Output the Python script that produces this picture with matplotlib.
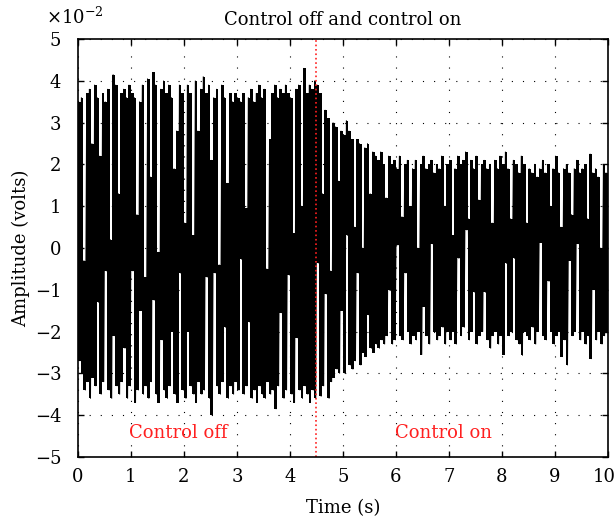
import numpy as np
import matplotlib
matplotlib.use("Agg")
import matplotlib.pyplot as plt
from matplotlib.transforms import ScaledTranslation

plt.rcParams['font.family'] = ['DejaVu Serif']
plt.rcParams['mathtext.fontset'] = 'dejavuserif'

# peak values, one pair every 0.05 s, in units of 1e-2 V
upper = [
    3.5, 3.6, -0.3, 3.7, 3.8, 2.5, 3.9, 3.6, 2.2, 3.7, 3.5, 3.8, 0.2, 4.15, 3.9, 1.3, 3.7, 3.8, 3.6, 3.9,
    3.7, 3.6, 0.8, 3.5, 3.9, -0.7, 4.05, 1.7, 4.2, 3.9, -0.1, 3.8, 4.0, 3.7, 3.9, 3.6, 1.9, 2.8, 3.9, 3.7,
    0.6, 3.9, 3.7, 0.3, 4.0, 2.8, 3.8, 4.1, 3.7, 3.9, 2.1, 3.6, 3.8, -0.4, 3.9, 3.6, 1.55, 3.7, 3.5, 3.7,
    3.6, 3.5, 3.7, 0.95, 3.6, 3.8, 3.5, 3.7, 3.9, 3.6, 3.8, -0.5, 2.6, 3.7, 3.9, 3.6, 3.8, 3.7, 3.9, 3.7,
    3.6, 0.35, 3.8, 3.9, 1.0, 4.3, 3.7, 3.9, 3.8, 4.0, 3.9, 3.7, 1.3, 3.3, 3.1, -0.55, 3.0, 2.9, 1.6, 2.8,
    2.7, 3.05, 2.8, 2.6, 0.5, 2.6, 2.5, 0.0, 2.4, 2.5, 1.3, 2.3, 2.2, 2.1, 2.3, 2.0, 1.2, 2.2, 2.0, 2.1,
    1.9, 2.2, 0.75, 2.0, 2.1, 1.0, 1.9, 2.1, 0.0, 2.0, 2.2, 1.9, 2.0, 2.1, 1.8, 2.0, 1.9, 2.2, 1.0, 2.0,
    2.1, 0.3, 1.9, 2.2, 2.0, 2.1, 2.3, 0.7, 2.1, 1.9, 2.2, 1.15, 2.0, 2.1, 1.9, 2.0, 0.6, 2.1, 1.9, 2.2,
    2.0, 2.3, 1.9, 0.7, 2.1, 2.0, 1.8, 2.2, 2.0, 0.6, 1.9, 1.8, 2.0, 1.7, 1.9, 2.1, 1.8, 2.0, 1.0, 1.9,
    2.2, 1.8, 0.5, 1.9, 2.0, 1.8, 0.8, 1.9, 2.1, 1.8, 1.9, 2.0, 0.7, 2.25, 1.8, 1.9, 1.7, 0.0, 2.0, 1.8,
]
lower = [
    -2.7, -3.0, -3.4, -3.2, -3.6, -3.1, -3.3, -1.3, -3.5, -3.2, -0.55, -3.4, -3.6, -2.1, -3.3, -3.5, -3.2, -2.4, -3.6, -3.3,
    -0.55, -3.7, -3.4, -1.5, -3.5, -3.3, -3.6, -3.2, -1.25, -3.5, -3.7, -2.2, -3.4, -3.6, -3.3, -2.0, -3.5, -3.7, -0.6, -3.4,
    -3.6, -2.0, -3.3, -3.5, -3.7, -3.2, -3.5, -3.4, -0.7, -3.6, -4.0, -0.6, -3.3, -3.5, -3.2, -1.9, -3.6, -3.3, -3.5, -3.2,
    -3.4, -0.27, -3.5, -3.3, -1.77, -3.6, -3.4, -3.7, -3.3, -3.5, -3.6, -3.2, -3.5, -3.4, -3.85, -3.3, -1.55, -3.6, -3.4, -0.65,
    -3.5, -3.7, -2.15, -3.4, -3.6, -3.3, -3.5, -3.7, -3.4, -3.6, -0.36, -3.55, -3.3, -1.1, -3.6, -3.2, -3.1, -2.9, -3.0, -1.5,
    -3.0, 0.3, -2.8, -2.9, -2.7, -0.6, -2.8, -2.5, -2.6, -1.6, -2.4, -2.5, -2.3, -2.4, -2.2, -2.3, -2.1, -1.0, -2.3, -2.2,
    0.07, -2.1, -2.2, -0.6, -2.0, -2.3, -2.1, -2.2, -2.0, -2.55, -1.4, -2.1, -2.3, 0.1, -2.0, -2.2, -2.1, -1.9, -2.3, -2.0,
    -2.2, -2.0, -2.3, -0.25, -2.1, -1.9, 0.43, -2.2, -2.0, -1.06, -2.3, -2.1, -2.0, -1.06, -2.2, -2.4, -2.1, -2.0, -2.3, -2.1,
    -2.55, -0.37, -2.1, -2.0, -0.25, -2.2, -2.3, -2.57, -2.0, -2.1, -2.2, -1.9, -2.3, -2.0, 0.13, -2.1, -2.2, -0.8, -2.0, -2.3,
    -2.1, -2.0, -2.6, -2.2, -2.8, -0.3, -2.1, -2.0, 0.1, -2.2, -2.0, -2.3, -2.1, -2.65, -1.0, -2.2, -2.0, -2.3, -2.1, -2.0,
]
t_switch = 4.5
labels = ["Control off", "Control on"]
label_t = [1.89, 6.89]

dt = 0.05
t_col = np.arange(len(upper) + 1) * dt
up = np.append(upper, upper[-1])
lo = np.append(lower, lower[-1])

# zig-zag through the same peaks for a ragged edge
sig = np.empty(2 * len(upper))
sig[0::2] = upper
sig[1::2] = lower
t = np.arange(len(sig)) * dt / 2 + dt / 4

fig = plt.figure(figsize=(6.16, 5.23), dpi=100)
ax = fig.add_axes([0.1266, 0.1262, 0.8604, 0.7992])

ax.fill_between(t_col, lo, up, step='post', color='black', lw=0)
ax.plot(t, sig, color='black', lw=0.6)
ax.axvline(t_switch, color='#ff2020', ls=':', lw=1.2)
for lab, tx in zip(labels, label_t):
    ax.text(tx, -4.42, lab, color='#ff2020', fontsize=13, ha='center', va='center')

ax.set_xlim(0, 10)
ax.set_ylim(-5, 5)
ax.set_xticks(range(0, 11))
ax.set_yticks(range(-5, 6))
ax.set_yticklabels(['\u2212%d' % -v if v < 0 else '%d' % v for v in range(-5, 6)])

ax.grid(True, color='black', ls=(0, (1, 9)), lw=0.8)
ax.tick_params(direction='in', top=True, right=True, length=4, labelsize=13, width=1)
ax.tick_params(axis='x', pad=8)
ax.tick_params(axis='y', pad=12)
for s in ax.spines.values():
    s.set_linewidth(1.2)

# nudge the last x label so it stays inside the figure
last = ax.get_xticklabels()[-1]
last.set_transform(last.get_transform() + ScaledTranslation(-4 / 100, 0, fig.dpi_scale_trans))

fig.text(46 / 616, 1 - 17 / 523, r'$\times10^{-2}$', fontsize=13, ha='left', va='center')
fig.text(343 / 616, 1 - 20 / 523, "Control off and control on", fontsize=13, ha='center', va='center')
ax.set_xlabel("Time (s)", fontsize=13, labelpad=9)
ax.set_ylabel("Amplitude (volts)", fontsize=13, labelpad=3.5)

fig.savefig("out.png", dpi=100)
